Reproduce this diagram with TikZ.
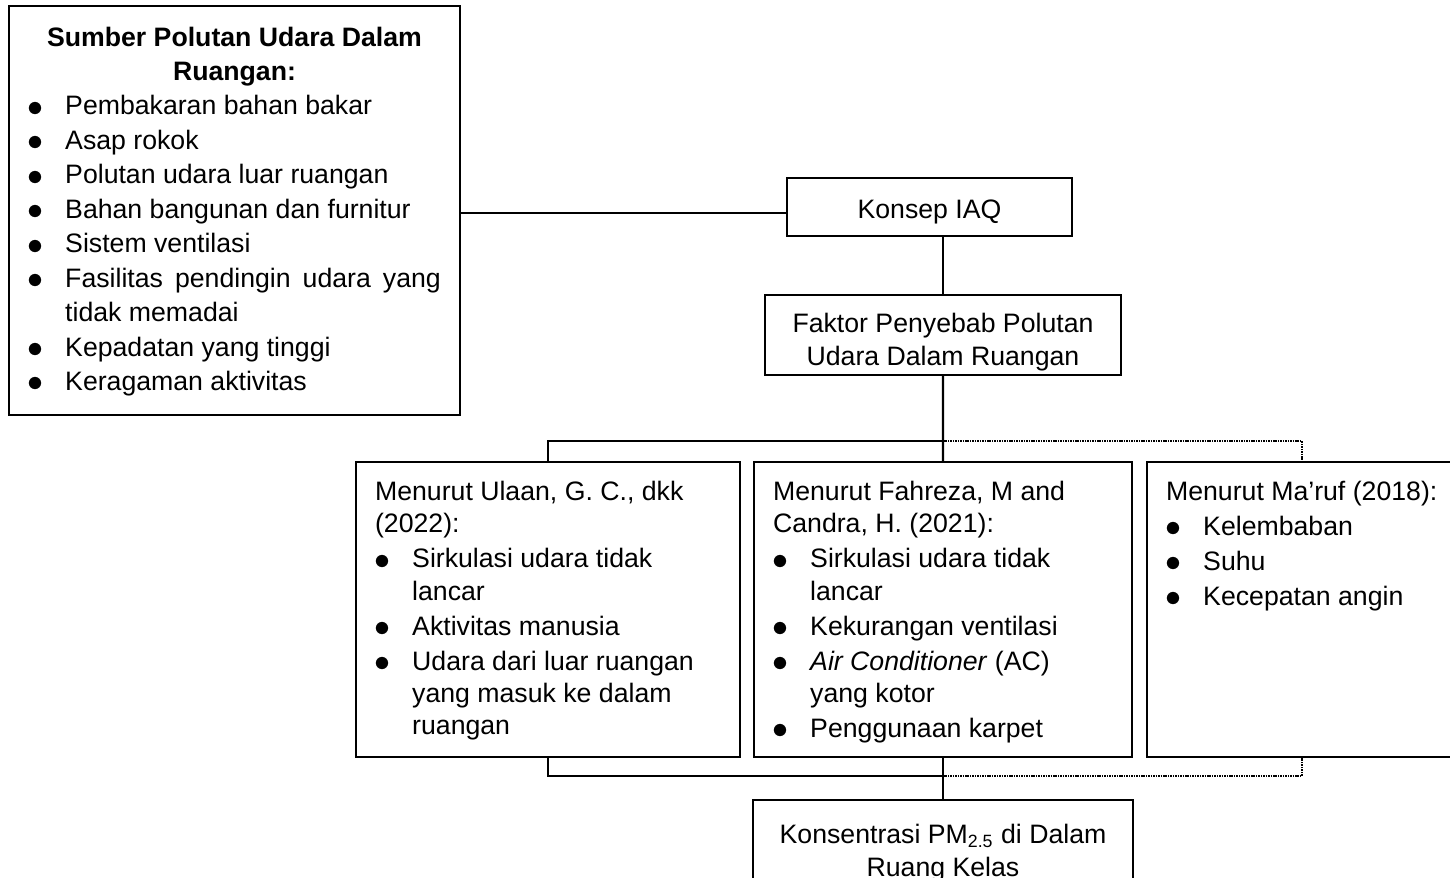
\documentclass[tikz,border=0pt]{standalone}
\usepackage{fontspec}
\setmainfont{Liberation Sans}
\usetikzlibrary{positioning,calc}
\tikzset{
    box/.style={rectangle, draw, line width=0.55pt, anchor=north west,
                inner xsep=8.6pt, inner ysep=0pt, outer sep=0pt},
    conn/.style={draw, line width=1pt},
    dotline/.style={draw, line width=1.1pt, dash pattern=on 0.7pt off 0.4pt},
}
\newcommand{\itm}[1]{\par\hangindent=16.7pt\hangafter=1\noindent
    \makebox[16.7pt][l]{\hspace{-0.3pt}\raisebox{-0.6pt}{\scalebox{1.2}{$\bullet$}}}#1}
\newcommand{\boxtext}[5][\raggedright]{\parbox[t][#3][t]{#2}{%
    \fontsize{12pt}{14.6pt}\selectfont\parskip=1.1pt#1%
    \vspace*{#4}\strut#5}}

\begin{document}
\begin{tikzpicture}[x=0.45pt, y=-0.45pt]
    \useasboundingbox (0,0) rectangle (1450,878);
    \clip (0,0) rectangle (1450,878);

    \node [box] (src) at (9,6) {\boxtext[\fontsize{12pt}{15.5pt}\selectfont\parskip=0pt]{185.75pt}{184.05pt}{7.2pt}{%
        {\centering\bfseries Sumber Polutan Udara Dalam\\Ruangan:\par}
        \itm{Pembakaran bahan bakar}
        \itm{Asap rokok}
        \itm{Polutan udara luar ruangan}
        \itm{Bahan bangunan dan furnitur}
        \itm{Sistem ventilasi}
        \itm{Fasilitas pendingin udara yang tidak memadai}
        \itm{Kepadatan yang tinggi}
        \itm{Keragaman aktivitas}}};
    \node [box] (konsep) at (787,178) {\boxtext[\centering]{111.05pt}{26.1pt}{7.1pt}{Konsep IAQ}};
    \node [box] (faktor) at (765,295) {\boxtext[\centering]{143pt}{36pt}{5.6pt}{Faktor Penyebab Polutan\\Udara Dalam Ruangan}};

    \node [box] (ulaan) at (356,462) {\boxtext{155.6pt}{132.75pt}{5.98pt}{%
        Menurut Ulaan, G. C., dkk\newline(2022):
        \itm{Sirkulasi udara tidak\newline lancar}
        \itm{Aktivitas manusia}
        \itm{Udara dari luar ruangan\newline yang masuk ke dalam\newline ruangan}}};
    \node [box, right=6.3pt of ulaan] (fahreza) {\boxtext{152.9pt}{132.75pt}{5.98pt}{%
        Menurut Fahreza, M and\newline Candra, H. (2021):
        \itm{Sirkulasi udara tidak\newline lancar}
        \itm{Kekurangan ventilasi}
        \itm{\textit{Air Conditioner} (AC)\newline yang kotor}
        \itm{Penggunaan karpet}}};
    \node [box, right=6.75pt of fahreza] (maruf) {\boxtext{122.3pt}{132.75pt}{5.98pt}{%
        \mbox{Menurut Ma’ruf (2018):}
        \itm{Kelembaban}
        \itm{Suhu}
        \itm{Kecepatan angin}}};
    \node [box, below=19.35pt of fahreza] (pm) {\boxtext[\centering]{153.8pt}{49.5pt}{8.4pt}{Konsentrasi PM\textsubscript{2.5} di Dalam\\Ruang Kelas}};

    % connectors
    \coordinate (kjoin) at ($(konsep.west)+(0,6)$);
    \draw[conn] (kjoin) -- (kjoin -| src.east);
    \draw[conn] (faktor.north) -- (faktor.north |- konsep.south);
    \coordinate (bustop) at ($(fahreza.north)+(0,-21)$);
    \coordinate (busbot) at ($(fahreza.south)+(0,19)$);
    \draw[conn] (faktor.south) -- (fahreza.north);
    \draw[conn] (ulaan.north) |- (bustop);
    \draw[dotline] (bustop) -| (maruf.north);
    \draw[conn] (fahreza.south) -- (pm.north);
    \draw[conn] (ulaan.south) |- (busbot);
    \draw[dotline] (busbot) -| (maruf.south);
\end{tikzpicture}
\end{document}
